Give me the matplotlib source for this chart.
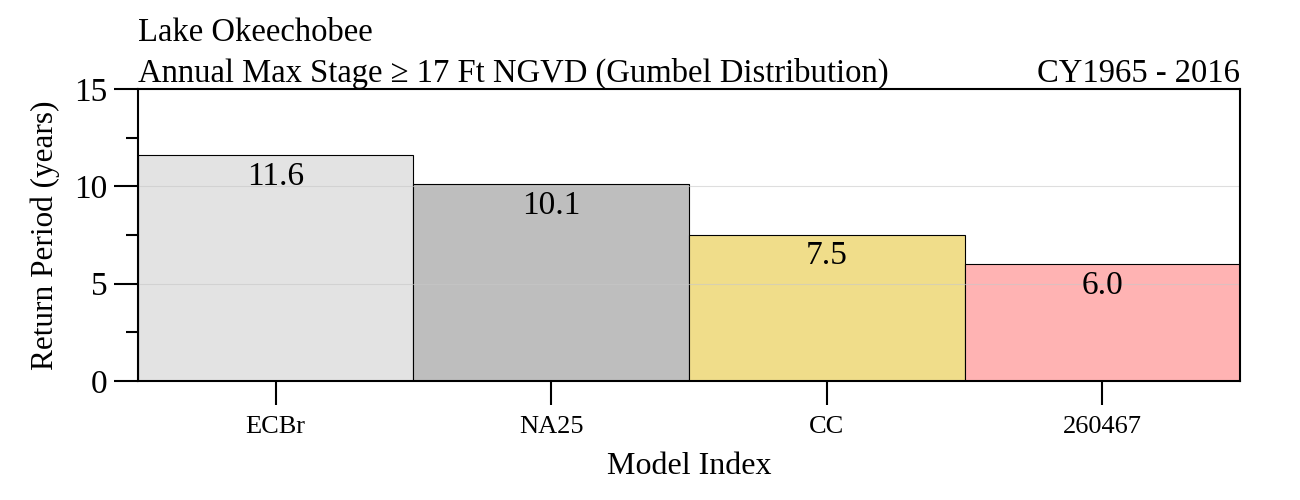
import matplotlib
matplotlib.use('Agg')
import matplotlib.pyplot as plt
from matplotlib.ticker import MultipleLocator

models = ['ECBr', 'NA25', 'CC', '260467']
return_period = [11.6, 10.1, 7.5, 6.0]
colors = ['#e3e3e3', '#bebebe', '#f0dd8a', '#ffb3b3']

plt.rcParams['font.family'] = ['Liberation Serif', 'DejaVu Serif']

fig = plt.figure(figsize=(13, 5), dpi=100)
ax = fig.add_axes([0.106, 0.238, 0.848, 0.584])

x = range(len(models))
ax.bar(x, return_period, width=1.0, color=colors, edgecolor='black', linewidth=0.8, zorder=2)
for xi, v in zip(x, return_period):
    ax.text(xi, v - 0.3, f'{v:.1f}', ha='center', va='top', fontsize=24, zorder=4)

ax.set_xlim(-0.5, len(models) - 0.5)
ax.set_ylim(0, 15)
ax.yaxis.set_major_locator(MultipleLocator(5))
ax.yaxis.set_minor_locator(MultipleLocator(2.5))
ax.set_xticks(list(x))
ax.set_xticklabels(models)
ax.grid(axis='y', color='#c8c8c8', linewidth=0.8, alpha=0.6, zorder=3)
ax.set_axisbelow(False)

ax.tick_params(axis='y', which='major', length=17, width=1.5, labelsize=24, pad=5)
ax.tick_params(axis='y', which='minor', length=8.5, width=1.5)
ax.tick_params(axis='x', length=17, width=1.5, labelsize=19, pad=8)
for s in ax.spines.values():
    s.set_linewidth(1.5)
    s.set_zorder(5)

ax.set_ylabel('Return Period (years)', fontsize=22.5, labelpad=10)
ax.set_xlabel('Model Index', fontsize=23, labelpad=10)

ax.text(0, 1.163, 'Lake Okeechobee', transform=ax.transAxes, fontsize=23.5, ha='left', va='baseline')
ax.text(0, 1.025, 'Annual Max Stage \u2265 17 Ft NGVD (Gumbel Distribution)', transform=ax.transAxes,
        fontsize=23.5, ha='left', va='baseline')
ax.text(1, 1.025, 'CY1965 - 2016', transform=ax.transAxes, fontsize=23.5, ha='right', va='baseline')

fig.savefig('out.png', dpi=100)
